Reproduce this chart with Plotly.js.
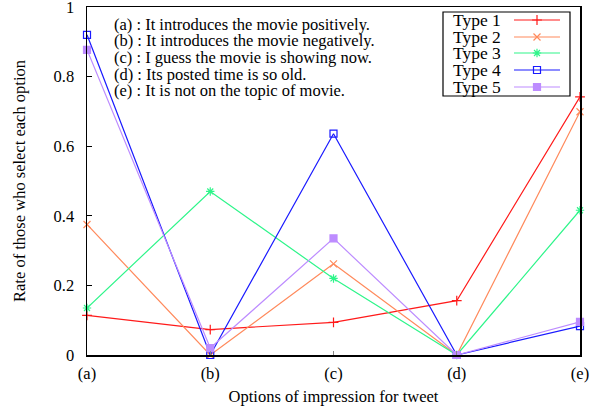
<!DOCTYPE html>
<html>
<head>
<meta charset="utf-8">
<script src="https://cdn.plot.ly/plotly-3.0.1.min.js"></script>
<style>html,body{margin:0;padding:0;background:#fff;}#chart{width:600px;height:411px;}</style>
</head>
<body>
<div id="chart"></div>
<script>
// ---- data ----
const categories = ["(a)", "(b)", "(c)", "(d)", "(e)"];
const seriesNames = ["Type 1", "Type 2", "Type 3", "Type 4", "Type 5"];
const type1 = [0.114, 0.073, 0.094, 0.156, 0.742];
const type2 = [0.375, 0.0, 0.262, 0.0, 0.699];
const type3 = [0.135, 0.470, 0.220, 0.0, 0.416];
const type4 = [0.920, 0.0, 0.636, 0.0, 0.083];
const type5 = [0.877, 0.020, 0.335, 0.0, 0.095];
const optionNotes = [
  "(a) : It introduces the movie positively.",
  "(b) : It introduces the movie negatively.",
  "(c) : I guess the movie is showing now.",
  "(d) : Its posted time is so old.",
  "(e) : It is not on the topic of movie."
];
const yTicks = [0, 0.2, 0.4, 0.6, 0.8, 1];
const yTickText = ["0", "0.2", "0.4", "0.6", "0.8", "1"];

// ---- styles ----
const allSeries = [type1, type2, type3, type4, type5];
const colors = ["#ff1a1a", "#ff8a5c", "#2ef58a", "#1a1aff", "#bd8cff"];
const symbols = ["cross-thin-open", "x-thin-open", "asterisk-open", "square-open", "square"];
const msizes = [7, 7, 7, 7, 7];
const FONT = "Liberation Serif, Times New Roman, serif";
const FS = 16.5;

const xIdx = categories.map((c, i) => i);
const traces = [];
allSeries.forEach((vals, k) => {
  traces.push({
    type: "scatter", mode: "lines+markers",
    x: xIdx, y: vals, name: seriesNames[k],
    line: {color: colors[k], width: 1.2},
    marker: {symbol: symbols[k], size: msizes[k], color: colors[k], line: {color: colors[k], width: 1.2}},
    cliponaxis: false, showlegend: false, hoverinfo: "skip"
  });
});

// custom legend (text left of sample, like the original), drawn on an overlay axis in pixel-like units
const legRowY = [13, 30, 46, 63, 80];
const shapes = [{type: "rect", xref: "x2", yref: "y2", x0: 356, x1: 483, y0: 5, y1: 89,
  line: {color: "#000", width: 1.2}, fillcolor: "rgba(255,255,255,0)"}];
const annotations = [];
seriesNames.forEach((nm, k) => {
  traces.push({type: "scatter", mode: "lines", xaxis: "x2", yaxis: "y2",
    x: [427, 473], y: [legRowY[k], legRowY[k]], line: {color: colors[k], width: 1.2},
    showlegend: false, hoverinfo: "skip"});
  traces.push({type: "scatter", mode: "markers", xaxis: "x2", yaxis: "y2",
    x: [450], y: [legRowY[k]],
    marker: {symbol: symbols[k], size: msizes[k], color: colors[k], line: {color: colors[k], width: 1.2}},
    showlegend: false, hoverinfo: "skip"});
  annotations.push({xref: "x2", yref: "y2", x: 416, y: legRowY[k], text: nm, showarrow: false,
    xanchor: "right", yanchor: "middle", font: {family: FONT, size: 17.5, color: "#000"}});
});
const noteY = [17, 33.7, 50.3, 67, 83.7];
optionNotes.forEach((t, i) => {
  annotations.push({xref: "x2", yref: "y2", x: 25, y: noteY[i], text: t, showarrow: false,
    xanchor: "left", yanchor: "middle", font: {family: FONT, size: FS, color: "#000"}});
});

const layout = {
  width: 600, height: 411,
  margin: {l: 87, r: 20, t: 7, b: 56, pad: 0},
  paper_bgcolor: "#fff", plot_bgcolor: "#fff",
  font: {family: FONT, size: FS, color: "#000"},
  showlegend: false,
  xaxis: {
    range: [0, 4], tickvals: xIdx, ticktext: categories,
    ticks: "inside", ticklen: 4, tickcolor: "#888", tickwidth: 1,
    showline: true, linecolor: "#000", linewidth: 1.5, mirror: true,
    showgrid: false, zeroline: false, ticklabelstandoff: 3, ticklabeloverflow: "allow",
    title: {text: "Options of impression for tweet", font: {family: FONT, size: FS}, standoff: 8}
  },
  yaxis: {
    range: [0, 1], tickvals: yTicks, ticktext: yTickText,
    ticks: "inside", ticklen: 5, tickcolor: "#000", tickwidth: 1,
    showline: true, linecolor: "#000", linewidth: 1.5, mirror: true,
    showgrid: false, zeroline: false, ticklabelstandoff: 8, ticklabeloverflow: "allow",
    title: {text: "Rate of those who select each option", font: {family: FONT, size: FS}, standoff: 24}
  },
  xaxis2: {overlaying: "x", range: [0, 493], visible: false, fixedrange: true},
  yaxis2: {overlaying: "y", range: [348, 0], visible: false, fixedrange: true},
  shapes: shapes,
  annotations: annotations
};

Plotly.newPlot("chart", traces, layout, {displayModeBar: false, staticPlot: true});
</script>
</body>
</html>
